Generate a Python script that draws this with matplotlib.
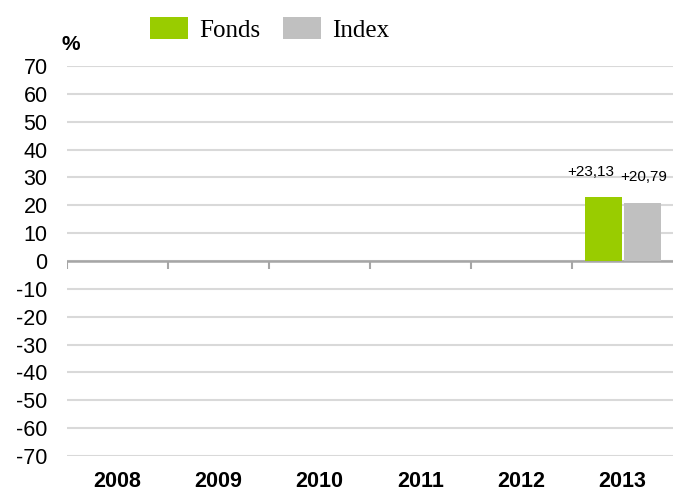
import matplotlib
matplotlib.use("Agg")
import matplotlib.pyplot as plt
import numpy as np

# --- dados ---
anos = ["2008", "2009", "2010", "2011", "2012", "2013"]
fonds = [np.nan, np.nan, np.nan, np.nan, np.nan, 23.13]
index = [np.nan, np.nan, np.nan, np.nan, np.nan, 20.79]
rotulos_fonds = ["", "", "", "", "", "+23,13"]
rotulos_index = ["", "", "", "", "", "+20,79"]
yticks = list(range(-70, 80, 10))

COR_FONDS = "#99cc00"
COR_INDEX = "#c0c0c0"

plt.rcParams["font.family"] = ["Liberation Sans", "DejaVu Sans"]

fig = plt.figure(figsize=(6.73, 4.91), dpi=100)
ax = fig.add_axes([67 / 673, 35 / 491, 606 / 673, 390 / 491])

x = np.arange(len(anos))
largura = 0.365
b1 = ax.bar(x - 0.19, fonds, largura, color=COR_FONDS, label="Fonds", zorder=3)
b2 = ax.bar(x + 0.20, index, largura, color=COR_INDEX, label="Index", zorder=3)

# rótulos dos valores
for xi, v, t in zip(x, fonds, rotulos_fonds):
    if t:
        ax.annotate(t, (xi - 0.19, v), xytext=(-9, 13), textcoords="offset points",
                    ha="center", va="bottom", fontsize=11)
for xi, v, t in zip(x, index, rotulos_index):
    if t:
        ax.annotate(t, (xi + 0.20, v), xytext=(1, 14), textcoords="offset points",
                    ha="center", va="bottom", fontsize=11)

ax.set_xlim(-0.5, len(anos) - 0.5)
ax.set_ylim(-70, 70)
ax.set_yticks(yticks)
ax.set_yticklabels([str(v) for v in yticks], fontsize=15.5)
ax.set_xticks(x)
ax.set_xticklabels(anos, fontsize=15.5, fontweight="bold")
ax.tick_params(axis="y", length=0, pad=14)
ax.tick_params(axis="x", length=0, pad=11)
for s in ax.spines.values():
    s.set_visible(False)

ax.grid(axis="y", color="#d9d9d9", linewidth=1.5, zorder=0)
ax.set_axisbelow(True)

# linha do zero com marcas entre categorias
ax.axhline(0, color="#a6a6a6", linewidth=1.8, zorder=2)
limites = np.arange(len(anos)) - 0.5
ax.vlines(limites, -2.9, 0, color="#a6a6a6", linewidth=1.5, zorder=2)

fig.text(61 / 673, 1 - 50 / 491, "%", fontsize=15, fontweight="bold")

fig.legend(handles=[b1, b2], loc="upper left", bbox_to_anchor=(150 / 673, 1 - 17 / 491),
           ncol=2, frameon=False, borderpad=0, borderaxespad=0,
           handlelength=1.52, handleheight=1.0, handletextpad=0.45, columnspacing=0.9,
           prop={"family": "Liberation Serif", "size": 18})

fig.savefig("out.png", dpi=100)
